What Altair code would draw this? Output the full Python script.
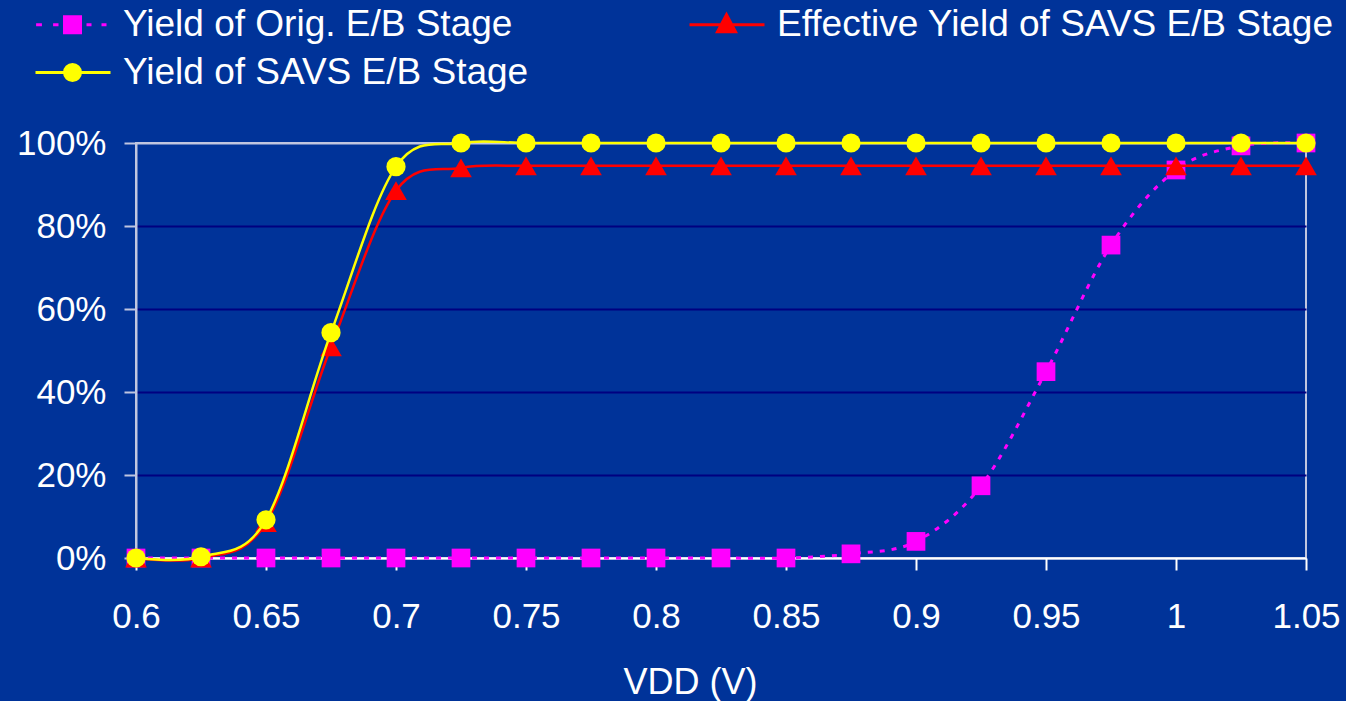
import altair as alt
import pandas as pd

# ---- data ----
vdd = [0.6, 0.625, 0.65, 0.675, 0.7, 0.725, 0.75, 0.775, 0.8, 0.825, 0.85,
       0.875, 0.9, 0.925, 0.95, 0.975, 1.0, 1.025, 1.05]
orig = [0, 0, 0, 0, 0, 0, 0, 0, 0, 0, 0,
        0.01, 0.04, 0.174, 0.449, 0.754, 0.935, 0.993, 1.0]
effective = [0, 0, 0.085, 0.509, 0.885, 0.94, 0.945, 0.945, 0.945, 0.945, 0.945,
             0.945, 0.945, 0.945, 0.945, 0.945, 0.945, 0.945, 0.945]
savs = [0, 0.003, 0.092, 0.543, 0.943, 1.0, 1.0, 1.0, 1.0, 1.0, 1.0,
        1.0, 1.0, 1.0, 1.0, 1.0, 1.0, 1.0, 1.0]

series_names = ["Yield of Orig. E/B Stage",
                "Effective Yield of SAVS E/B Stage",
                "Yield of SAVS E/B Stage"]
colors = ["#FF00FF", "#FF0000", "#FFFF00"]
x_ticks = [0.6, 0.65, 0.7, 0.75, 0.8, 0.85, 0.9, 0.95, 1.0, 1.05]
y_ticks = [0, 0.2, 0.4, 0.6, 0.8, 1.0]

rows = []
for name, vals in zip(series_names, [orig, effective, savs]):
    for x, y in zip(vdd, vals):
        rows.append({"vdd": x, "yield": y, "series": name})
df = pd.DataFrame(rows)

# legend glyphs (line + marker) as custom symbol paths
glyph = {
    series_names[0]: "M-3.64,0H-3.06M-1.94,0H-1.4M1.4,0H1.9M2.9,0H3.4M-0.8,-0.8H0.8V0.8H-0.8Z",
    series_names[1]: "M-3.7,0H3.8M0,-1.0L0.9,0.7L-0.9,0.7Z",
    series_names[2]: "M-3.7,0H3.8M0.8,0C0.8,0.442 0.442,0.8 0,0.8C-0.442,0.8 -0.8,0.442 -0.8,0"
                     "C-0.8,-0.442 -0.442,-0.8 0,-0.8C0.442,-0.8 0.8,-0.442 0.8,0Z",
}
color_of = dict(zip(series_names, colors))
# legend is filled column by column: Orig, SAVS in column 1; Effective in column 2
legend_order = [series_names[0], series_names[2], series_names[1]]
legend_paths = [glyph[n] for n in legend_order]
legend_colors = [color_of[n] for n in legend_order]

FONT = "Liberation Sans"
LIGHT = "#C0C6E0"

x_enc = alt.X("vdd:Q",
              scale=alt.Scale(domain=[0.6, 1.05], nice=False, zero=False),
              axis=alt.Axis(values=x_ticks, format="~g", grid=False,
                            title="VDD (V)", titleFontSize=36, titleColor="white",
                            titleFont=FONT, titleFontWeight="normal",
                            titleX=554, titleY=135, titleBaseline="alphabetic",
                            titleAnchor="middle", titleAlign="center",
                            labelFontSize=35, labelColor="white", labelFont=FONT,
                            labelPadding=29, tickSize=12, tickColor="white",
                            tickWidth=2, domainColor="white", domainWidth=2,
                            labelFlush=False, labelOverlap=False))
y_enc = alt.Y("yield:Q",
              scale=alt.Scale(domain=[0, 1], nice=False),
              axis=alt.Axis(values=y_ticks, format=".0%", title=None,
                            grid=True,
                            gridColor=alt.condition("datum.value == 1 || datum.value == 0",
                                                    alt.value(LIGHT), alt.value("#000080")),
                            gridWidth=2,
                            labelFontSize=35, labelColor="white", labelFont=FONT,
                            labelPadding=18, tickSize=12, tickColor=LIGHT,
                            tickWidth=2, domainColor=LIGHT, domainWidth=2,
                            labelFlush=False, labelOverlap=False))

base = alt.Chart(df).encode(x=x_enc, y=y_enc)

dashes = [[5, 7], None, None]
widths = [3, 2.5, 2.5]
shapes = ["square", "triangle-up", "circle"]
sizes = [350, 470, 370]

layers = []
for name, col, dash, w, shp, sz in zip(series_names, colors, dashes, widths, shapes, sizes):
    sub = base.transform_filter(alt.datum.series == name)
    line_kwargs = dict(color=col, strokeWidth=w, interpolate="cardinal")
    if dash:
        line_kwargs["strokeDash"] = dash
    layers.append(sub.mark_line(**line_kwargs))
    layers.append(sub.mark_point(shape=shp, size=sz, filled=True, color=col, opacity=1))

legend_layer = base.mark_point(filled=True, opacity=0, strokeWidth=3).encode(
    shape=alt.Shape("series:N", scale=alt.Scale(domain=legend_order, range=legend_paths),
                    legend=alt.Legend(title=None)),
    fill=alt.Fill("series:N", scale=alt.Scale(domain=legend_order, range=legend_colors),
                  legend=alt.Legend(title=None)),
    stroke=alt.Stroke("series:N", scale=alt.Scale(domain=legend_order, range=legend_colors),
                      legend=alt.Legend(title=None)),
)

chart = alt.layer(legend_layer, *layers).properties(
    width=1170, height=415,
    autosize=alt.AutoSizeParams(type="none"),
    padding={"left": 136, "top": 143, "right": 40, "bottom": 143},
    background="#003399",
).configure_view(
    stroke=LIGHT, strokeWidth=2, fill="#003399"
).configure_legend(
    orient="none", legendX=-82, legendY=-137, columns=2,
    symbolSize=400, symbolStrokeWidth=3, symbolOpacity=1,
    labelFontSize=37, labelColor="white", labelFont=FONT, labelOffset=32,
    labelLimit=800, columnPadding=154, rowPadding=10, padding=0,
)

chart.save("out.html", embed_options={"renderer": "svg", "actions": False})
